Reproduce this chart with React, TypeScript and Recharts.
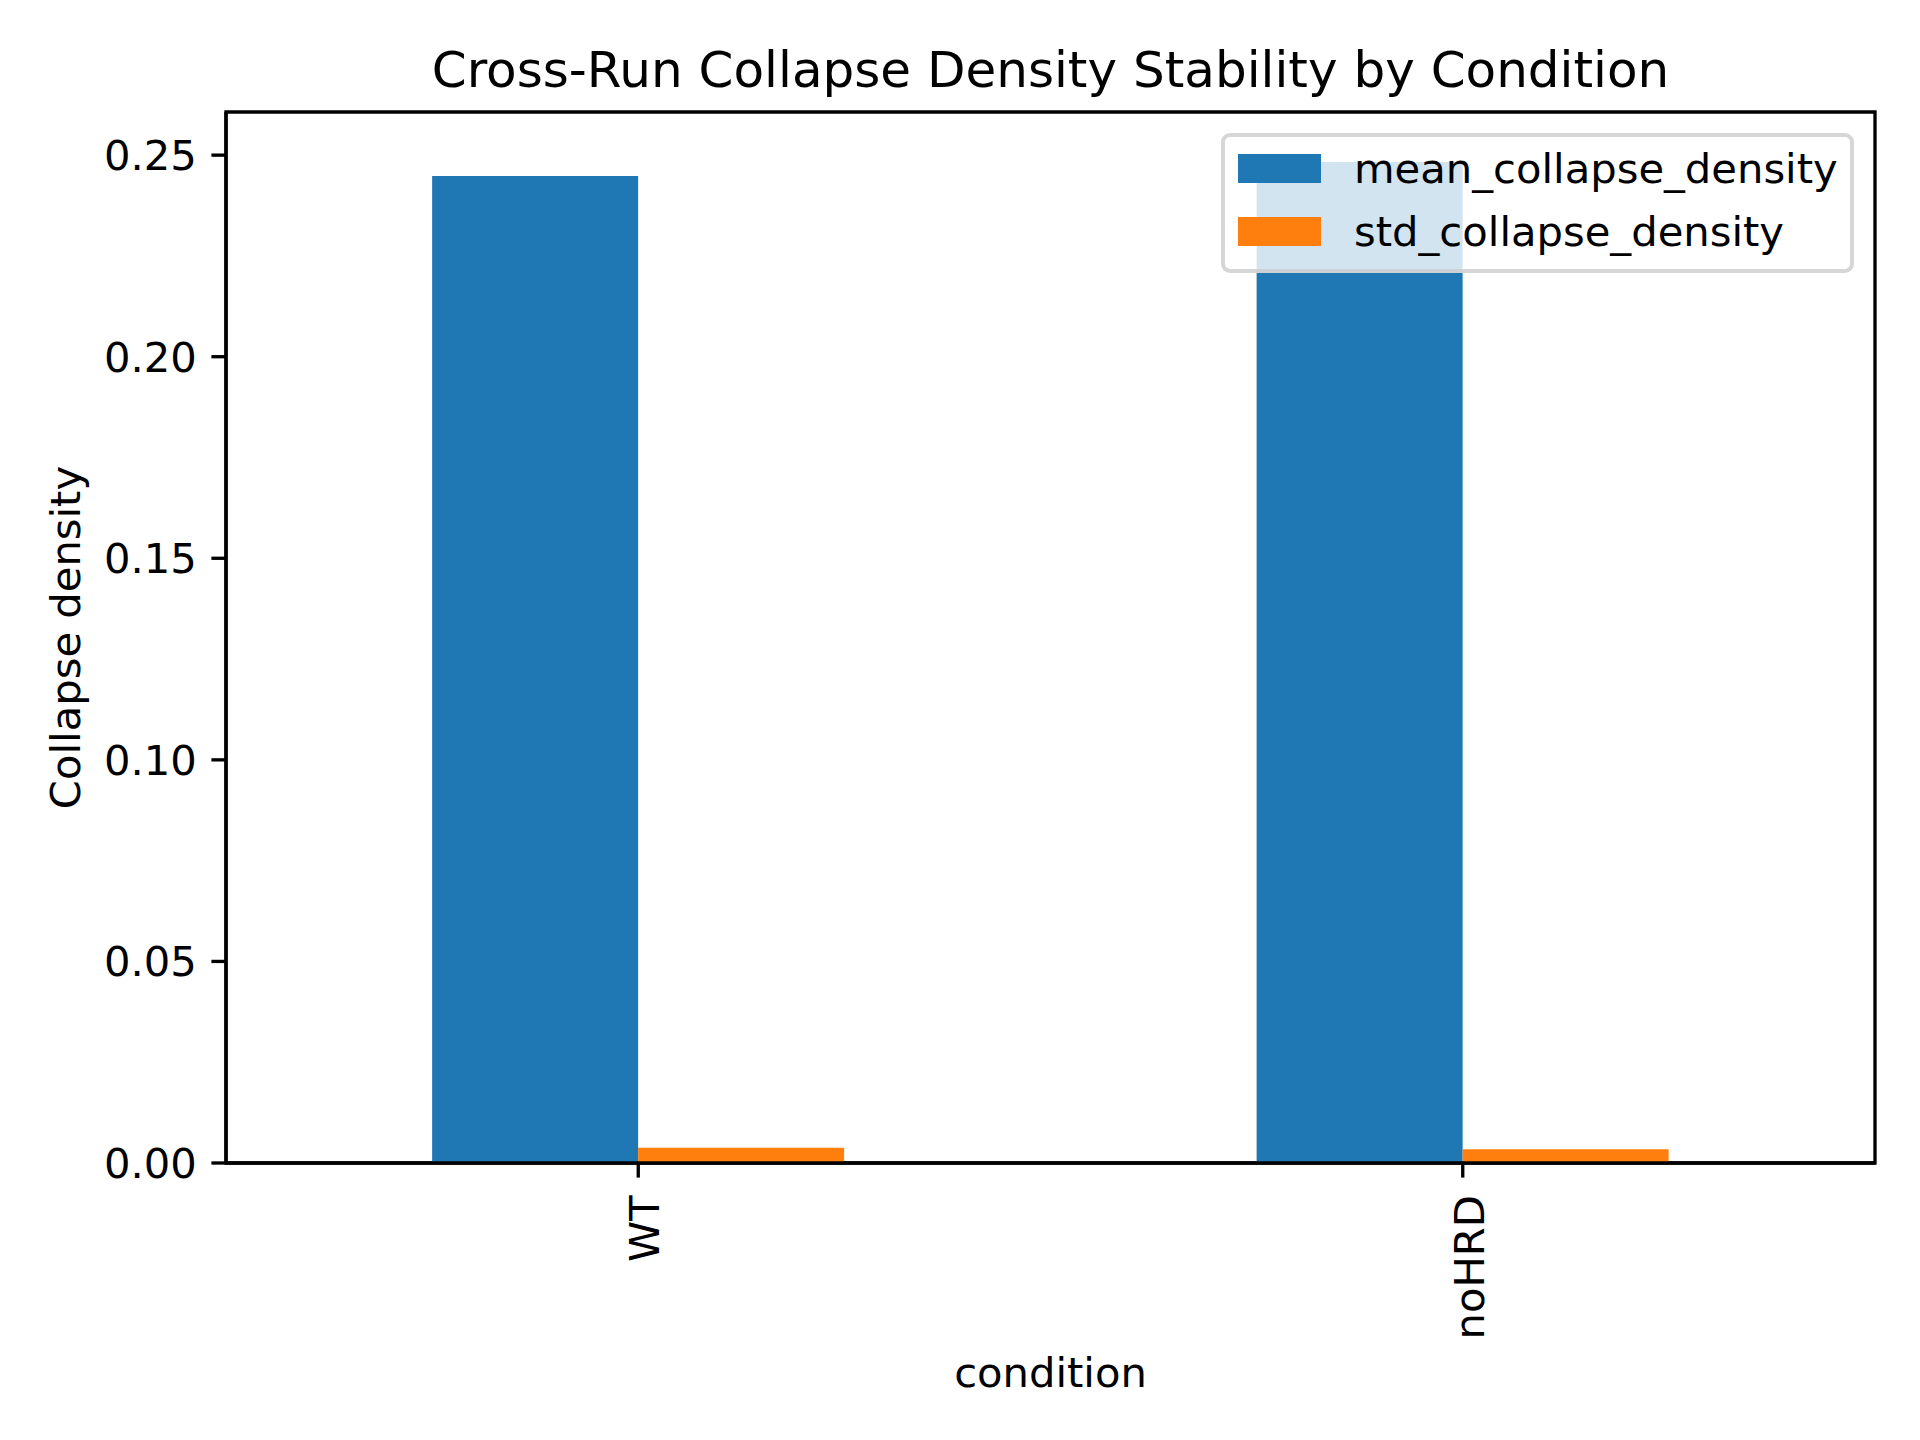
import React from 'react';
import { BarChart, Bar, XAxis, YAxis, Legend, Label, ReferenceArea } from 'recharts';

// per-condition collapse density summary
const conditions = ['WT', 'noHRD'];
const meanCollapseDensity = [0.2448, 0.2483];
const stdCollapseDensity = [0.0038, 0.0034];
const yTicks = [0, 0.05, 0.1, 0.15, 0.2, 0.25];
const yMax = 0.2607;

const FONT = '"DejaVu Sans", sans-serif';
const LW = 3.33;
const TICK = 14.6;

const data = conditions.map((condition, i) => ({
  condition,
  mean_collapse_density: meanCollapseDensity[i],
  std_collapse_density: stdCollapseDensity[i],
}));

const XTick = (props: any) => {
  const { x, y, payload } = props;
  return (
    <text
      x={x}
      y={y + 3}
      transform={`rotate(-90, ${x}, ${y + 3})`}
      textAnchor="end"
      dy="0.5em"
      fill="#000"
      fontSize={41.7}
      fontFamily={FONT}
    >
      {payload.value}
    </text>
  );
};

const renderLegend = (props: any) => {
  const { payload } = props;
  return (
    <div
      style={{
        position: 'relative',
        boxSizing: 'border-box',
        width: 633,
        height: 140,
        border: '4px solid rgba(204,204,204,0.8)',
        borderRadius: 9,
        background: 'rgba(255,255,255,0.8)',
        fontFamily: FONT,
        fontSize: 41.7,
        color: '#000',
      }}
    >
      {payload.map((entry: any, i: number) => (
        <div
          key={entry.value}
          style={{
            position: 'absolute',
            left: 13,
            top: i * 63,
            height: 63,
            display: 'flex',
            alignItems: 'center',
            whiteSpace: 'nowrap',
          }}
        >
          <span style={{ display: 'inline-block', width: 83, height: 29, background: entry.color }} />
          <span style={{ marginLeft: 33 }}>{entry.value}</span>
        </div>
      ))}
    </div>
  );
};

export default function App() {
  return (
    <div style={{ position: 'absolute', left: 0, top: 0, background: '#fff' }}>
      <BarChart
        width={1920}
        height={1440}
        data={data}
        margin={{ top: 112, right: 45, left: 0, bottom: 0 }}
        barCategoryGap="25%"
        barGap={0}
      >
        <XAxis
          dataKey="condition"
          height={277}
          tickSize={TICK}
          tickMargin={TICK}
          tick={<XTick />}
          axisLine={{ stroke: '#000', strokeWidth: LW }}
          tickLine={{ stroke: '#000', strokeWidth: LW }}
        >
          <Label
            content={(p: any) => (
              <text
                x={p.viewBox.x + p.viewBox.width / 2}
                y={p.viewBox.y + 209}
                textAnchor="middle"
                dominantBaseline="central"
                fontSize={41.7}
                fontFamily={FONT}
                fill="#000"
              >
                condition
              </text>
            )}
          />
        </XAxis>
        <YAxis
          type="number"
          width={226}
          domain={[0, yMax]}
          ticks={yTicks}
          allowDataOverflow
          tickFormatter={(v: number) => v.toFixed(2)}
          tickSize={TICK}
          tickMargin={TICK}
          tick={{ fill: '#000', fontSize: 41.7, fontFamily: FONT }}
          axisLine={{ stroke: '#000', strokeWidth: LW }}
          tickLine={{ stroke: '#000', strokeWidth: LW }}
        >
          <Label
            content={(p: any) => {
              const cx = p.viewBox.x + 65;
              const cy = p.viewBox.y + p.viewBox.height / 2;
              return (
                <text
                  x={cx}
                  y={cy}
                  transform={`rotate(-90, ${cx}, ${cy})`}
                  textAnchor="middle"
                  dominantBaseline="central"
                  fontSize={41.7}
                  fontFamily={FONT}
                  fill="#000"
                >
                  Collapse density
                </text>
              );
            }}
          />
        </YAxis>
        <Bar dataKey="mean_collapse_density" fill="#1f77b4" isAnimationActive={false} />
        <Bar dataKey="std_collapse_density" fill="#ff7f0e" isAnimationActive={false} />
        {/* full plot frame, carries the title above it */}
        <ReferenceArea
          y1={0}
          y2={yMax}
          fill="none"
          fillOpacity={0}
          stroke="#000"
          strokeWidth={LW}
          ifOverflow="visible"
        >
          <Label
            content={(p: any) => (
              <text
                x={p.viewBox.x + p.viewBox.width / 2}
                y={p.viewBox.y - 25}
                textAnchor="middle"
                fontSize={50}
                fontFamily={FONT}
                fill="#000"
              >
                Cross-Run Collapse Density Stability by Condition
              </text>
            )}
          />
        </ReferenceArea>
        <Legend
          layout="vertical"
          align="center"
          verticalAlign="middle"
          wrapperStyle={{ left: 1221, top: 133, width: 633, height: 140 }}
          content={renderLegend}
        />
      </BarChart>
    </div>
  );
}
